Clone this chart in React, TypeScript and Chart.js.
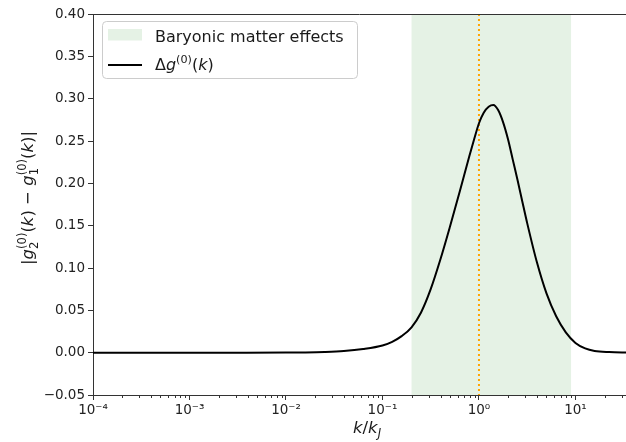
import React, { useEffect, useRef } from 'react';
import { Chart, registerables } from 'chart.js';

Chart.register(...registerables);

// ---- data ----
const kValues = [
  0.0001, 0.001, 0.00316, 0.01, 0.0158, 0.0251, 0.0398, 0.0631, 0.1, 0.126, 0.158, 0.2,
  0.251, 0.316, 0.398, 0.501, 0.631, 0.794, 0.891, 1.0, 1.12, 1.26, 1.41, 1.58, 1.78, 2.0,
  2.24, 2.51, 2.82, 3.16, 3.98, 5.01, 6.31, 7.94, 10.0, 12.6, 15.8, 22.4, 35.5,
];
const deltaG = [
  0.0, 0.0, 0.0, 0.0001, 0.0003, 0.0008, 0.0019, 0.0043, 0.0085, 0.0128, 0.0195, 0.03,
  0.0475, 0.075, 0.11, 0.149, 0.19, 0.232, 0.252, 0.271, 0.2835, 0.2905, 0.2925, 0.2865, 0.272, 0.252,
  0.228, 0.204, 0.178, 0.153, 0.107, 0.07, 0.043, 0.024, 0.0115, 0.005, 0.002, 0.0007, 0.0002,
];
const xRange = [1e-4, 33.4];
const yRange = [-0.05, 0.4];
const xTickValues = [1e-4, 1e-3, 1e-2, 1e-1, 1, 10];
const xTickLabels = ['10⁻⁴', '10⁻³', '10⁻²', '10⁻¹', '10⁰', '10¹'];
const yTickValues = [-0.05, 0.0, 0.05, 0.1, 0.15, 0.2, 0.25, 0.3, 0.35, 0.4];
const yTickLabels = ['−0.05', '0.00', '0.05', '0.10', '0.15', '0.20', '0.25', '0.30', '0.35', '0.40'];
const shadeRange = [0.2, 9];
const refLineK = [1];
const legendLabels = ['Baryonic matter effects', 'Δg(0)(k)'];

const FONT = '"DejaVu Sans", "Liberation Sans", sans-serif';
const fontStr = (size: number, italic?: boolean) => `${italic ? 'italic ' : ''}${size}px ${FONT}`;

type Seg = { t: string; it?: boolean; sup?: boolean; sub?: boolean; stackSub?: string };

function segWidth(ctx: CanvasRenderingContext2D, s: Seg, size: number) {
  const small = size * 0.7;
  if (s.sup || s.sub) {
    ctx.font = fontStr(small, s.it);
    let w = ctx.measureText(s.t).width;
    if (s.stackSub) {
      ctx.font = fontStr(small, false);
      w = Math.max(w, ctx.measureText(s.stackSub).width);
    }
    return w;
  }
  ctx.font = fontStr(size, s.it);
  return ctx.measureText(s.t).width;
}

function drawRuns(
  ctx: CanvasRenderingContext2D,
  segs: Seg[],
  size: number,
  x: number,
  y: number,
  align: 'left' | 'center'
) {
  const widths = segs.map((s) => segWidth(ctx, s, size));
  const total = widths.reduce((a, b) => a + b, 0);
  let cx = align === 'center' ? x - total / 2 : x;
  ctx.textAlign = 'left';
  ctx.textBaseline = 'alphabetic';
  const small = size * 0.7;
  segs.forEach((s, i) => {
    if (s.sup) {
      ctx.font = fontStr(small, s.it);
      ctx.fillText(s.t, cx, y - size * 0.42);
      if (s.stackSub) {
        ctx.font = fontStr(small, false);
        ctx.fillText(s.stackSub, cx, y + size * 0.3);
      }
    } else if (s.sub) {
      ctx.font = fontStr(small, s.it);
      ctx.fillText(s.t, cx, y + size * 0.25);
    } else {
      ctx.font = fontStr(size, s.it);
      ctx.fillText(s.t, cx, y);
    }
    cx += widths[i];
  });
  return total;
}

const decorPlugin = {
  id: 'decor',
  beforeDatasetsDraw(chart: any) {
    const { ctx, chartArea } = chart;
    const xs = chart.scales.x;
    ctx.save();
    const x0 = xs.getPixelForValue(shadeRange[0]);
    const x1 = xs.getPixelForValue(shadeRange[1]);
    ctx.fillStyle = 'rgba(0,128,0,0.1)';
    ctx.fillRect(x0, chartArea.top, x1 - x0, chartArea.bottom - chartArea.top);
    const xr = xs.getPixelForValue(refLineK[0]);
    ctx.strokeStyle = '#FFA500';
    ctx.lineWidth = 2;
    ctx.setLineDash([2, 3]);
    ctx.beginPath();
    ctx.moveTo(xr, chartArea.top);
    ctx.lineTo(xr, chartArea.bottom);
    ctx.stroke();
    ctx.restore();
  },
  afterDraw(chart: any) {
    const { ctx, chartArea } = chart;
    const xs = chart.scales.x;
    ctx.save();
    ctx.strokeStyle = '#333';
    ctx.lineWidth = 1;
    ctx.beginPath();
    ctx.moveTo(chartArea.left, chartArea.top + 0.5);
    ctx.lineTo(chartArea.right, chartArea.top + 0.5);
    ctx.stroke();
    ctx.beginPath();
    for (let e = -4; e <= 2; e++) {
      for (let m = 2; m <= 9; m++) {
        const v = m * Math.pow(10, e);
        if (v <= xRange[0] || v >= xRange[1]) continue;
        const px = Math.round(xs.getPixelForValue(v)) + 0.5;
        ctx.moveTo(px, chartArea.bottom);
        ctx.lineTo(px, chartArea.bottom + 3);
      }
    }
    ctx.stroke();

    // legend
    const bx = 102.5, by = 21.5, bw = 255, bh = 57, r = 4;
    ctx.beginPath();
    ctx.moveTo(bx + r, by);
    ctx.lineTo(bx + bw - r, by);
    ctx.quadraticCurveTo(bx + bw, by, bx + bw, by + r);
    ctx.lineTo(bx + bw, by + bh - r);
    ctx.quadraticCurveTo(bx + bw, by + bh, bx + bw - r, by + bh);
    ctx.lineTo(bx + r, by + bh);
    ctx.quadraticCurveTo(bx, by + bh, bx, by + bh - r);
    ctx.lineTo(bx, by + r);
    ctx.quadraticCurveTo(bx, by, bx + r, by);
    ctx.closePath();
    ctx.fillStyle = 'rgba(255,255,255,0.8)';
    ctx.fill();
    ctx.strokeStyle = '#cccccc';
    ctx.stroke();

    ctx.fillStyle = 'rgba(0,128,0,0.1)';
    ctx.fillRect(108, 29, 34, 11.5);
    ctx.strokeStyle = '#000';
    ctx.lineWidth = 2;
    ctx.beginPath();
    ctx.moveTo(108, 65);
    ctx.lineTo(142, 65);
    ctx.stroke();

    ctx.fillStyle = '#1a1a1a';
    ctx.font = fontStr(16);
    ctx.textAlign = 'left';
    ctx.textBaseline = 'alphabetic';
    ctx.fillText(legendLabels[0], 155, 41.5);
    drawRuns(
      ctx,
      [{ t: 'Δ' }, { t: 'g', it: true }, { t: '(0)', sup: true }, { t: '(' }, { t: 'k', it: true }, { t: ')' }],
      16,
      155,
      70,
      'left'
    );

    drawRuns(
      ctx,
      [{ t: 'k', it: true }, { t: '/' }, { t: 'k', it: true }, { t: 'J', it: true, sub: true }],
      16.5,
      367,
      433,
      'center'
    );

    ctx.translate(33, 198);
    ctx.rotate(-Math.PI / 2);
    drawRuns(
      ctx,
      [
        { t: '|' },
        { t: 'g', it: true },
        { t: '(0)', sup: true, stackSub: '2' },
        { t: '(' },
        { t: 'k', it: true },
        { t: ')' },
        { t: ' − ' },
        { t: 'g', it: true },
        { t: '(0)', sup: true, stackSub: '1' },
        { t: '(' },
        { t: 'k', it: true },
        { t: ')|' },
      ],
      16.5,
      0,
      0,
      'center'
    );
    ctx.restore();
  },
};

export default function App() {
  const ref = useRef<HTMLCanvasElement | null>(null);
  useEffect(() => {
    document.body.style.margin = '0';
    const canvas = ref.current!;
    const chart = new Chart(canvas, {
      type: 'line',
      data: {
        datasets: [
          {
            label: legendLabels[1],
            data: kValues.map((k, i) => ({ x: k, y: deltaG[i] })),
            borderColor: '#000',
            borderWidth: 2,
            pointRadius: 0,
            fill: false,
            cubicInterpolationMode: 'monotone',
          },
        ],
      },
      options: {
        responsive: false,
        animation: false,
        devicePixelRatio: 1,
        layout: { padding: { top: 14, right: 0, left: 0, bottom: 0 } },
        plugins: { legend: { display: false }, tooltip: { enabled: false } },
        scales: {
          x: {
            type: 'logarithmic',
            min: xRange[0],
            max: xRange[1],
            afterBuildTicks: (s: any) => {
              s.ticks = xTickValues.map((v) => ({ value: v, major: true }));
            },
            afterFit: (s: any) => {
              s.height = 47;
            },
            ticks: {
              autoSkip: false,
              maxRotation: 0,
              minRotation: 0,
              padding: 2,
              color: '#222',
              font: { family: FONT, size: 13.5 },
              callback: (v: any) => {
                const i = xTickValues.findIndex((t) => Math.abs(t - v) / t < 1e-6);
                return i >= 0 ? xTickLabels[i] : '';
              },
            },
            grid: { drawOnChartArea: false, drawTicks: true, tickLength: 5, tickColor: '#333' },
            border: { display: true, color: '#333', width: 1 },
          },
          y: {
            type: 'linear',
            min: yRange[0],
            max: yRange[1],
            afterBuildTicks: (s: any) => {
              s.ticks = yTickValues.map((v) => ({ value: v }));
            },
            afterFit: (s: any) => {
              s.width = 93;
            },
            ticks: {
              autoSkip: false,
              padding: 3,
              color: '#222',
              font: { family: FONT, size: 13.5 },
              callback: (v: any) => {
                const i = yTickValues.findIndex((t) => Math.abs(t - v) < 1e-9);
                return i >= 0 ? yTickLabels[i] : '';
              },
            },
            grid: { drawOnChartArea: false, drawTicks: true, tickLength: 5, tickColor: '#333' },
            border: { display: true, color: '#333', width: 1 },
          },
        },
      } as any,
      plugins: [decorPlugin],
    });
    return () => chart.destroy();
  }, []);
  return <canvas ref={ref} width={626} height={442} style={{ display: 'block' }} />;
}
